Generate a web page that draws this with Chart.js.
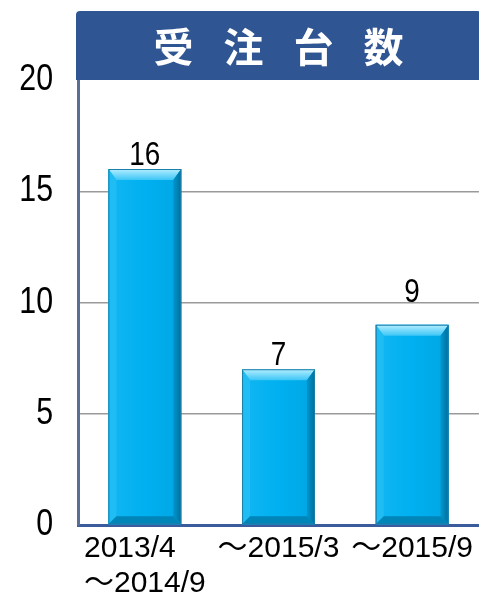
<!DOCTYPE html>
<html>
<head>
<meta charset="utf-8">
<script src="https://cdn.jsdelivr.net/npm/chart.js@4"></script>
<style>
    html, body { margin: 0; padding: 0; background: #fff; }
    #wrap { width: 479px; height: 595px; }
</style>
</head>
<body>
<div id="wrap"><canvas id="orderChart" width="479" height="595"></canvas></div>
<script>
const chartTitle = '受注台数';
const periods = [['2013/4\u3000', '～2014/9'], '～2015/3', '～2015/9'];
const orderCounts = [16, 7, 9];
const yTicks = [0, 5, 10, 15, 20];

const fontFamily = '"Liberation Sans", "Noto Sans CJK JP", sans-serif';
const squeeze = 0.82; // narrow look of the original digits

function narrowText(ctx, text, x, y, size, align, baseline) {
    ctx.save();
    ctx.translate(x, y);
    ctx.scale(squeeze, 1);
    ctx.font = size + 'px ' + fontFamily;
    ctx.fillStyle = '#000';
    ctx.textAlign = align;
    ctx.textBaseline = baseline;
    ctx.fillText(text, 0, 0);
    ctx.restore();
}

// title band above the plot
const titlePlugin = {
    id: 'titleBand',
    afterDraw(chart) {
        const ctx = chart.ctx;
        const area = chart.chartArea;
        const top = 11;
        ctx.save();
        ctx.fillStyle = '#2F5592';
        ctx.beginPath();
        ctx.roundRect(area.left - 2, top, chart.width - area.left + 4, area.top - top, [4, 4, 0, 0]);
        ctx.fill();
        ctx.fillStyle = '#ffffff';
        ctx.font = 'bold 40px "Noto Sans CJK JP", sans-serif';
        ctx.textAlign = 'center';
        ctx.textBaseline = 'middle';
        const chars = Array.from(chartTitle);
        const mid = (area.left + area.right) / 2;
        chars.forEach((c, i) => {
            ctx.fillText(c, mid + (i - (chars.length - 1) / 2) * 70, top + (area.top - top) / 2 + 1);
        });
        ctx.restore();
    }
};

// y tick labels, drawn a bit condensed
const yLabelPlugin = {
    id: 'yLabels',
    afterDraw(chart) {
        const scale = chart.scales.y;
        yTicks.forEach(v => {
            narrowText(chart.ctx, String(v), scale.right - 25, scale.getPixelForValue(v), 37, 'right', 'middle');
        });
    }
};

// bevel look on the bars + value labels
const bevelPlugin = {
    id: 'bevelBars',
    afterDatasetsDraw(chart, args, opts) {
        const ctx = chart.ctx;
        const meta = chart.getDatasetMeta(0);
        meta.data.forEach((bar, i) => {
            const p = bar.getProps(['x', 'y', 'base', 'width'], true);
            const l = p.x - p.width / 2, r = p.x + p.width / 2;
            const t = p.y, b = p.base;
            const tb = 11, sb = 8;
            ctx.save();

            let g = ctx.createLinearGradient(l, 0, r, 0);
            g.addColorStop(0, '#12B6F2');
            g.addColorStop(0.5, '#00B0F0');
            g.addColorStop(1, '#00A6E4');
            ctx.fillStyle = g;
            ctx.fillRect(l, t, r - l, b - t);

            // top
            g = ctx.createLinearGradient(0, t, 0, t + tb);
            g.addColorStop(0, '#B5EEFF');
            g.addColorStop(1, '#3CC6F6');
            ctx.fillStyle = g;
            ctx.beginPath();
            ctx.moveTo(l, t); ctx.lineTo(r, t); ctx.lineTo(r - sb, t + tb); ctx.lineTo(l + sb, t + tb);
            ctx.closePath(); ctx.fill();

            // left
            ctx.fillStyle = '#20BDF4';
            ctx.beginPath();
            ctx.moveTo(l, t); ctx.lineTo(l + sb, t + tb); ctx.lineTo(l + sb, b - sb); ctx.lineTo(l, b);
            ctx.closePath(); ctx.fill();

            // right
            g = ctx.createLinearGradient(r - sb, 0, r, 0);
            g.addColorStop(0, '#0096CE');
            g.addColorStop(1, '#006E9C');
            ctx.fillStyle = g;
            ctx.beginPath();
            ctx.moveTo(r, t); ctx.lineTo(r - sb, t + tb); ctx.lineTo(r - sb, b - sb); ctx.lineTo(r, b);
            ctx.closePath(); ctx.fill();

            // bottom
            ctx.fillStyle = '#0085B8';
            ctx.beginPath();
            ctx.moveTo(l, b); ctx.lineTo(l + sb, b - sb); ctx.lineTo(r - sb, b - sb); ctx.lineTo(r, b);
            ctx.closePath(); ctx.fill();

            ctx.strokeStyle = '#1C7FA8';
            ctx.lineWidth = 1;
            ctx.strokeRect(l + 0.5, t + 0.5, r - l - 1, b - t - 1);
            ctx.restore();

            // value
            narrowText(ctx, String(orderCounts[i]), p.x, t - opts.lift[i], 34, 'center', 'alphabetic');
        });
    }
};

new Chart(document.getElementById('orderChart'), {
    type: 'bar',
    data: {
        labels: periods,
        datasets: [{
            data: orderCounts,
            backgroundColor: '#00B0F0',
            borderWidth: 0,
            categoryPercentage: 1,
            barPercentage: 0.545
        }]
    },
    options: {
        responsive: false,
        animation: false,
        layout: { padding: { top: 80, right: 0, left: 0, bottom: 0 } },
        plugins: {
            legend: { display: false },
            tooltip: { enabled: false },
            bevelBars: { lift: [4, 4, 23] }
        },
        scales: {
            x: {
                grid: { display: false, drawTicks: false },
                border: { display: true, color: '#3A5C9C', width: 3 },
                ticks: {
                    color: '#000',
                    padding: 6,
                    maxRotation: 0,
                    autoSkip: false,
                    font: { family: fontFamily, size: 30, lineHeight: 1.17 }
                },
                afterFit(scale) { scale.height = 70; }
            },
            y: {
                min: 0,
                max: 20,
                afterBuildTicks(scale) { scale.ticks = yTicks.map(v => ({ value: v })); },
                grid: {
                    drawTicks: false,
                    color: ctx => (ctx.tick && (ctx.tick.value === 0 || ctx.tick.value === 20)) ? 'rgba(0,0,0,0)' : '#9A9A9A',
                    lineWidth: 1.5
                },
                border: { display: true, color: '#5A6E94', width: 3 },
                ticks: { display: false },
                afterFit(scale) { scale.width = 78; }
            }
        }
    },
    plugins: [titlePlugin, yLabelPlugin, bevelPlugin]
});
</script>
</body>
</html>
